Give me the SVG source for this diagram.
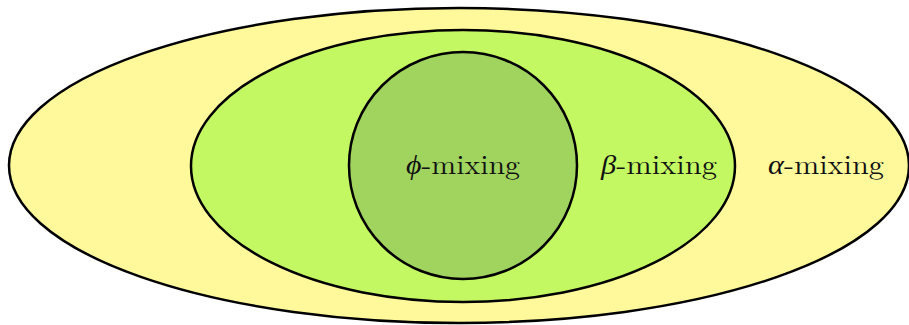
<svg xmlns="http://www.w3.org/2000/svg" width="909" height="325" viewBox="0 0 909 325">
<style>
.set{stroke:#000;stroke-width:2.5}
.lbl{font-family:"Latin Modern Roman","Liberation Serif","DejaVu Serif",serif;font-size:27px;fill:#111}
.g{font-style:italic}
</style>
<g id="alpha">
<ellipse class="set" cx="459" cy="165.5" rx="450" ry="157.5" fill="#FFF99C"/>
<text class="lbl" x="768" y="174" textLength="116" lengthAdjust="spacingAndGlyphs"><tspan class="g">α</tspan>-mixing</text>
</g>
<g id="beta">
<ellipse class="set" cx="463" cy="166" rx="272" ry="136" fill="#C4F862"/>
<text class="lbl" x="601" y="174" textLength="116" lengthAdjust="spacingAndGlyphs"><tspan class="g">β</tspan>-mixing</text>
</g>
<g id="phi">
<ellipse class="set" cx="463" cy="165.5" rx="114" ry="113.5" fill="#A0D45E"/>
<text class="lbl" x="406" y="174" textLength="114" lengthAdjust="spacingAndGlyphs"><tspan class="g">ϕ</tspan>-mixing</text>
</g>
<g id="connectors"/>
</svg>
